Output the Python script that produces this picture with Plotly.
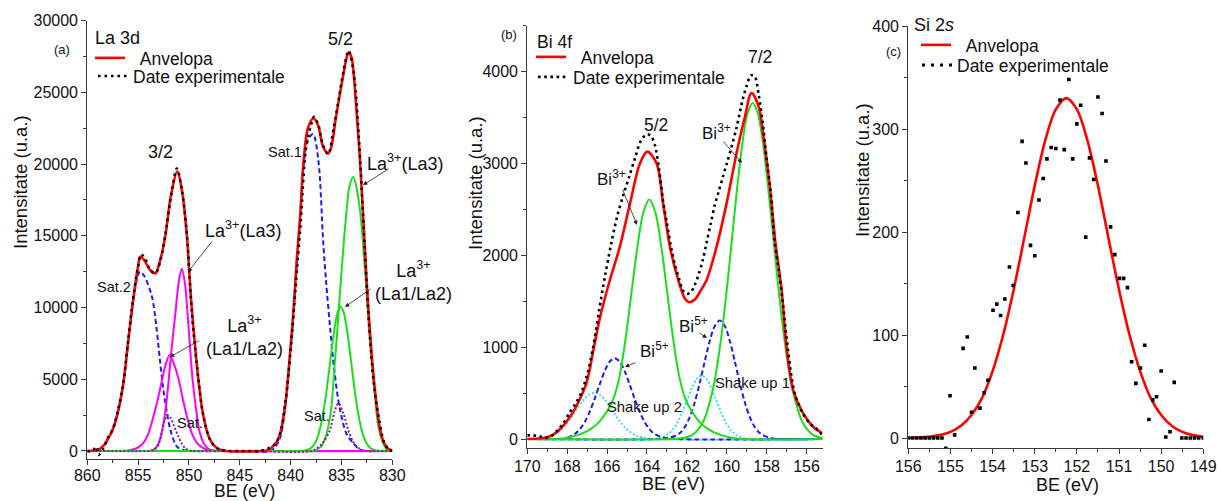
import plotly.graph_objects as go

FONT = "Liberation Sans, Arial, Helvetica, sans-serif"
W, H = 1219, 501
AX = "#3a3a3a"
TXT = "#111111"

# ---------------- Panel (a): La 3d ----------------
a_env_x = [860, 859.5, 859, 858.7, 858.3, 858, 857.5, 857.1, 856.5, 856, 855.77, 855.4, 855, 854.8, 854.4, 853.8, 853.3, 852.8, 852.3, 851.8, 851.15, 850.7, 850.2, 849.97, 849.73, 849.4, 849.08, 848.6, 848, 847.5, 847, 846.3, 843, 842.3, 841.5, 841, 840.5, 840.06, 839.7, 839.4, 839.05, 838.75, 838.3, 837.75, 837.3, 836.8, 836.3, 836.0, 835.6, 835.2, 834.8, 834.5, 834.3, 834.0, 833.8, 833.5, 833.18, 832.8, 832.52, 832.2, 831.87, 831.5, 831.2, 830.8, 830.4, 830]
a_env_y = [0, 20, 80, 190, 450, 800, 1500, 2390, 4500, 7500, 8900, 11000, 12900, 13550, 13300, 12600, 12390, 13400, 15100, 17700, 19500, 18200, 15000, 12400, 10000, 7300, 5000, 2500, 900, 350, 100, 0, 0, 50, 500, 1300, 3400, 6800, 10000, 13300, 16500, 20000, 22500, 23200, 22700, 21200, 20750, 21200, 23000, 24700, 26300, 27400, 27800, 27400, 26300, 23500, 20300, 15500, 11800, 8300, 5400, 2950, 1500, 550, 150, 30]

a_exp_x = [860, 859.5, 859.1, 858.9, 858.4, 858, 857.5, 857, 856.5, 856, 855.5, 855, 854.7, 854.3, 853.8, 853.3, 852.8, 852.3, 851.8, 851.2, 850.7, 850.2, 849.7, 849.1, 848.6, 848, 847.5, 847, 846, 845, 844, 843, 842.5, 842.2, 841.5, 841, 840.5, 840, 839.5, 839, 838.5, 838, 837.7, 837.3, 836.8, 836.3, 835.8, 835.3, 834.8, 834.3, 833.8, 833.3, 832.8, 832.3, 831.8, 831.3, 830.8, 830.4, 830]
a_exp_y = [0, 0, 300, -280, 190, 900, 1500, 2800, 4500, 7600, 10600, 12900, 13700, 13400, 12600, 12400, 13300, 15200, 17600, 19700, 18200, 15000, 9500, 5200, 2500, 900, 350, 100, 0, 0, 0, 0, 100, 190, 500, 1300, 3500, 7000, 11500, 16000, 21000, 22700, 23300, 22800, 21300, 20700, 22400, 24400, 26500, 27900, 26400, 22000, 15400, 9000, 4600, 2200, 600, 150, 0]

# Sat.2 + Sat.1 (blue dashed)
a_sat_x = [860, 859, 858.5, 858, 857.5, 857, 856.5, 856, 855.5, 855, 854.8, 854.4, 853.64, 853.2, 852.82, 852.5, 852.16, 851.8, 851.18, 850.5, 850, 845, 842, 841.5, 841, 840.5, 840.06, 839.7, 839.4, 839.05, 838.75, 838.3, 837.8, 837.28, 836.79, 836.5, 836.13, 835.7, 835.15, 834.5, 833.84, 833.2, 832.5, 831, 830]
a_sat_y = [0, 60, 300, 800, 1500, 2650, 4500, 7400, 10300, 12300, 12500, 12200, 10760, 8600, 6100, 4200, 2630, 1400, 300, 50, 0, 0, 0, 300, 1000, 3300, 6600, 9700, 13000, 16300, 19700, 21700, 22100, 20300, 14500, 11700, 8700, 5600, 2900, 1200, 540, 100, 0, 0, 0]

# La3+(La3), 3/2 (magenta)
a_la3_32_x = [860, 855, 854, 853.5, 853, 852.65, 852.3, 852, 851.7, 851.35, 851, 850.7, 850.4, 850.15, 849.9, 849.65, 849.3, 849, 848.6, 848.1, 847.5, 847, 830]
a_la3_32_y = [0, 0, 0, 80, 500, 1400, 2900, 4900, 7200, 9500, 11800, 12700, 11700, 9700, 7300, 5000, 2900, 1500, 600, 150, 20, 0, 0]

# La3+(La1/La2), 3/2 (magenta)
a_la12_32_x = [860, 857, 856.5, 856, 855.5, 855, 854.5, 854, 853.5, 853, 852.65, 852.3, 851.9, 851.5, 851, 850.6, 850.2, 849.7, 849.2, 848.7, 848.2, 847.5, 846.5, 830]
a_la12_32_y = [0, 0, 10, 30, 100, 250, 550, 1200, 2400, 3800, 4950, 6000, 6700, 6100, 4950, 3600, 2400, 1200, 550, 250, 80, 10, 0, 0]

# La3+(La3), 5/2 (green)
a_la3_52_x = [860, 839, 838, 837.5, 837, 836.5, 836.3, 836, 835.64, 835.4, 835.15, 834.8, 834.49, 834.2, 833.84, 833.5, 833.2, 833.01, 832.8, 832.52, 832.3, 832.03, 831.7, 831.38, 831, 830.55, 830]
a_la3_52_y = [0, 0, 0, 80, 300, 1100, 1700, 3000, 6300, 8500, 11000, 14300, 16800, 18500, 19100, 18300, 16900, 15600, 13600, 11000, 8600, 6300, 3700, 1700, 700, 100, 0]

# La3+(La1/La2), 5/2 (green)
a_la12_52_x = [860, 839.6, 839.08, 838.58, 838.08, 837.78, 837.48, 837.18, 836.88, 836.58, 836.28, 835.98, 835.68, 835.38, 835.08, 834.78, 834.48, 834.18, 833.88, 833.58, 833.28, 832.98, 832.68, 832.38, 832.08, 831.58, 831.08, 830.5, 830]
a_la12_52_y = [0, 0, 7, 39, 170, 370, 740, 1360, 2320, 3630, 5240, 6970, 8540, 9660, 10060, 9660, 8540, 6970, 5240, 3630, 2320, 1360, 740, 370, 170, 39, 7, 0, 0]

# Sat. (purple dotted)
a_satm_x = [860, 854, 853.6, 853.3, 853, 852.7, 852.4, 852.1, 851.8, 851.5, 851.1, 850.7, 850.3, 849.8, 849.3, 845, 838, 837.4, 836.8, 836.13, 835.7, 835.3, 834.8, 834.33, 833.9, 833.5, 833, 832.5, 830]
a_satm_y = [0, 0, 30, 150, 450, 1200, 2100, 2500, 2300, 1800, 1100, 500, 150, 20, 0, 0, 0, 200, 600, 1460, 2700, 3320, 2600, 1460, 700, 300, 80, 0, 0]

# ---------------- Panel (b): Bi 4f ----------------
b_env_x = [170, 169.5, 169, 168.68, 168.3, 167.83, 167.4, 167.02, 166.66, 166.36, 165.86, 165.36, 164.85, 164.35, 163.99, 163.52, 163.19, 162.85, 162.43, 162.1, 161.9, 161.6, 161.3, 161.01, 160.51, 160.01, 159.51, 159.1, 158.76, 158.4, 158.18, 157.84, 157.55, 157.25, 157.0, 156.67, 156.17, 155.67, 155.2]
b_env_y = [0, 5, 20, 50, 120, 250, 420, 620, 1000, 1320, 1732, 2095, 2567, 3003, 3130, 3003, 2567, 2095, 1732, 1530, 1490, 1520, 1620, 1732, 2095, 2567, 3112, 3500, 3770, 3620, 3330, 2748, 2120, 1623, 1000, 534, 280, 134, 62]

b_exp_x = [170, 169.7, 169.4, 169.1, 168.8, 168.5, 168.2, 167.9, 167.6, 167.3, 167.0, 166.7, 166.4, 166.1, 165.8, 165.5, 165.2, 164.9, 164.6, 164.3, 164.0, 163.8, 163.6, 163.4, 163.2, 163.0, 162.8, 162.6, 162.4, 162.2, 162.0, 161.8, 161.6, 161.4, 161.2, 161.0, 160.8, 160.6, 160.4, 160.2, 160.0, 159.8, 159.5, 159.2, 159.0, 158.8, 158.6, 158.4, 158.2, 158.0, 157.8, 157.6, 157.4, 157.2, 157.0, 156.8, 156.6, 156.4, 156.2, 156.0, 155.8, 155.6, 155.4, 155.2]
b_exp_y = [40, 40, 30, 10, 30, 90, 170, 280, 380, 500, 700, 1000, 1400, 1780, 2120, 2420, 2650, 2850, 3060, 3250, 3320, 3300, 3200, 2950, 2600, 2350, 2100, 1900, 1750, 1620, 1580, 1600, 1680, 1800, 1950, 2150, 2350, 2550, 2700, 2850, 3000, 3150, 3400, 3700, 3850, 3960, 3950, 3750, 3450, 3050, 2700, 2150, 1850, 1500, 1100, 750, 500, 380, 280, 220, 160, 130, 90, 40]

# Bi3+ 5/2 and 7/2 (green)
b_bi3_52_x = [170, 168.5, 167.88, 167.38, 166.88, 166.38, 165.98, 165.68, 165.38, 165.08, 164.78, 164.48, 164.18, 163.88, 163.58, 163.28, 162.98, 162.68, 162.38, 162.08, 161.78, 161.38, 160.88, 160.38, 159.88, 159.28, 155.2]
b_bi3_52_y = [0, 0, 20, 50, 100, 190, 310, 440, 680, 1080, 1590, 2090, 2470, 2610, 2470, 2090, 1590, 1080, 680, 440, 310, 190, 100, 50, 20, 0, 0]
b_bi3_72_x = [170, 162.7, 162.2, 161.7, 161.2, 160.7, 160.45, 160.2, 159.95, 159.7, 159.45, 159.2, 158.95, 158.7, 158.45, 158.2, 157.95, 157.7, 157.45, 157.2, 156.95, 156.7, 156.2, 155.7, 155.2]
b_bi3_72_y = [0, 0, 10, 48, 182, 535, 839, 1242, 1727, 2263, 2794, 3246, 3551, 3660, 3551, 3246, 2794, 2263, 1727, 1242, 839, 535, 182, 48, 10]

# Bi5+ 5/2 and 7/2 (blue dashed)
b_bi5_52_x = [170, 168.6, 168.1, 167.62, 167.37, 167.12, 166.87, 166.62, 166.37, 166.12, 165.87, 165.62, 165.37, 165.12, 164.87, 164.62, 164.37, 164.12, 163.87, 163.62, 163.12, 162.6, 155.2]
b_bi5_52_y = [0, 0, 5, 55, 106, 185, 299, 440, 596, 740, 843, 880, 843, 740, 596, 440, 299, 185, 106, 55, 12, 0, 0]
b_bi5_72_x = [170, 163.35, 162.85, 162.35, 162.1, 161.85, 161.6, 161.35, 161.1, 160.85, 160.6, 160.35, 160.1, 159.85, 159.6, 159.35, 159.1, 158.85, 158.6, 158.35, 157.85, 157.35, 155.2]
b_bi5_72_y = [0, 0, 12, 66, 132, 242, 404, 614, 849, 1071, 1232, 1290, 1232, 1071, 849, 614, 404, 242, 132, 66, 12, 0, 0]

# Shake up 2 and Shake up 1 (cyan dotted)
b_sh2_x = [170, 169.7, 169.15, 168.75, 168.45, 168.15, 167.85, 167.55, 167.25, 166.95, 166.65, 166.35, 166.05, 165.75, 165.45, 165.15, 164.85, 164.55, 164.15, 163.65, 155.2]
b_sh2_y = [0, 0, 14, 39, 78, 138, 220, 316, 410, 479, 505, 479, 410, 316, 220, 138, 78, 39, 14, 0, 0]
b_sh1_x = [170, 163.76, 163.26, 163.01, 162.76, 162.51, 162.26, 162.01, 161.76, 161.51, 161.26, 161.01, 160.76, 160.51, 160.26, 160.01, 159.76, 159.51, 159.26, 158.76, 155.2]
b_sh1_y = [0, 0, 18, 42, 88, 166, 277, 413, 549, 652, 690, 652, 549, 413, 277, 166, 88, 42, 18, 0, 0]

# ---------------- Panel (c): Si 2s ----------------
c_env_x = [156.0, 155.75, 155.5, 155.25, 155.0, 154.75, 154.5, 154.25, 154.0, 153.75, 153.5, 153.25, 153.0, 152.75, 152.5, 152.25, 152.0, 151.75, 151.5, 151.25, 151.0, 150.75, 150.5, 150.25, 150.0, 149.75, 149.5, 149.25, 149.0]
c_env_y = [0.2, 0.5, 1.2, 2.8, 5.9, 11.9, 22.4, 39, 65, 100, 144, 194, 245, 289, 319, 330, 319, 289, 245, 194, 144, 100, 65, 39, 22.4, 11.9, 5.9, 2.8, 1.2]

c_exp_x = [156.0, 155.9, 155.8, 155.7, 155.6, 155.5, 155.4, 155.3, 155.2, 155.11, 155.01, 154.90, 154.70, 154.60, 154.50, 154.42, 154.30, 154.20, 154.11, 153.99, 153.90, 153.81, 153.71, 153.60, 153.51, 153.40, 153.30, 153.21, 153.10, 153.00, 152.90, 152.80, 152.71, 152.61, 152.50, 152.40, 152.30, 152.19, 152.10, 152.00, 151.91, 151.79, 151.70, 151.60, 151.50, 151.40, 151.31, 151.20, 151.10, 150.99, 150.89, 150.80, 150.70, 150.60, 150.49, 150.39, 150.29, 150.20, 150.11, 150.00, 149.89, 149.79, 149.69, 149.51, 149.41, 149.31, 149.21, 149.11, 149.0]
c_exp_y = [0, 0, 0, 0, 0, 0, 0, 0, 0, -10, 41, 3, 87, 98, 25, 68, 29, 44, 56, 124, 130, 119, 135, 166, 148, 219, 288, 267, 187, 177, 231, 252, 271, 282, 281, 328, 280, 348, 271, 305, 323, 195, 272, 251, 331, 315, 269, 205, 178, 155, 155, 146, 74, 53, 68, 90, 18, 37, 40, 65, 1, 6, 54, 0, 0, 0, 0, 0, 0]

# ---------------- styles ----------------
RED = "#ff0000"
GREEN = "#19e019"
MAGENTA = "#ff00ff"
BLUE = "#1a1aff"
PURPLE = "#8b1a9b"
CYAN = "#3fdcf5"
NB = "\u00a0"

fig = go.Figure()


def line(x, y, ax, color, width=2.0, dash="solid", name=None, legend=None, shape="spline"):
    fig.add_trace(go.Scatter(
        x=x, y=y, mode="lines", xaxis="x" + ax, yaxis="y" + ax,
        line=dict(color=color, width=width, dash=dash, shape=shape, smoothing=0.9),
        name=name, showlegend=legend is not None, legend=legend or "legend",
        hoverinfo="skip"))


# panel (a)
line(a_sat_x, a_sat_y, "", BLUE, 2.0, "5px,3px")
line(a_la12_32_x, a_la12_32_y, "", MAGENTA, 2.0)
line(a_la3_32_x, a_la3_32_y, "", MAGENTA, 2.0)
line(a_la12_52_x, a_la12_52_y, "", GREEN, 2.0)
line(a_la3_52_x, a_la3_52_y, "", GREEN, 2.0)
line(a_satm_x, a_satm_y, "", PURPLE, 2.0, "2px,2px")
line(a_env_x, a_env_y, "", RED, 2.6, name=NB + NB + "Anvelopa", legend="legend")
line(a_exp_x, a_exp_y, "", "#000000", 2.5, "2.5px,4px", name="Date experimentale", legend="legend2")

# panel (b)
line(b_sh2_x, b_sh2_y, "2", CYAN, 2.0, "2px,2px")
line(b_sh1_x, b_sh1_y, "2", CYAN, 2.0, "2px,2px")
line(b_bi5_52_x, b_bi5_52_y, "2", BLUE, 2.0, "5px,3px")
line(b_bi5_72_x, b_bi5_72_y, "2", BLUE, 2.0, "5px,3px")
line(b_bi3_52_x, b_bi3_52_y, "2", GREEN, 2.0)
line(b_bi3_72_x, b_bi3_72_y, "2", GREEN, 2.0)
line(b_env_x, b_env_y, "2", RED, 2.6, name=NB + NB + "Anvelopa", legend="legend3")
line(b_exp_x, b_exp_y, "2", "#000000", 2.6, "2.6px,3.6px", name="Date experimentale", legend="legend4")

# panel (c)
line(c_env_x, c_env_y, "3", RED, 2.6, name=NB + NB + "Anvelopa", legend="legend5")
fig.add_trace(go.Scatter(x=c_exp_x, y=c_exp_y, mode="markers", xaxis="x3", yaxis="y3",
                         marker=dict(symbol="square", size=3.6, color="#000000"),
                         showlegend=False, hoverinfo="skip"))
fig.add_trace(go.Scatter(x=[None], y=[None], mode="lines", xaxis="x3", yaxis="y3",
                         line=dict(color="#000000", width=3, dash="3px,6px"),
                         name="Date experimentale", legend="legend6"))


def axis(domain, rng, dtick, minor_dtick, **kw):
    d = dict(domain=domain, range=rng, autorange=False, dtick=dtick, automargin=False,
             showline=True, linecolor=AX, linewidth=1.2, mirror=False,
             ticks="outside", ticklen=5, tickwidth=1.2, tickcolor=AX,
             minor=dict(ticks="outside", ticklen=3, tickwidth=1.0, tickcolor=AX, dtick=minor_dtick, showgrid=False),
             showgrid=False, zeroline=False,
             tickfont=dict(family=FONT, size=16, color=TXT))
    d.update(kw)
    return d


def px(x):
    return x / W


def py(y):
    return 1 - y / H


layout = dict(
    width=W, height=H, margin=dict(l=0, r=0, t=0, b=0, autoexpand=False),
    paper_bgcolor="white", plot_bgcolor="white",
    font=dict(family=FONT, color=TXT),
    xaxis=axis([px(87.3), px(392.3)], [860, 830], 5, 2.5, anchor="y", tick0=830, ticklabelstandoff=-3),
    yaxis=axis([py(459), py(20.7)], [-560, 30000], 5000, 2500, anchor="x", tickformat="d", tick0=0),
    xaxis2=axis([px(527.3), px(822.5)], [170, 155.2], 2, 1, anchor="y2", tick0=156, ticklabelstandoff=-2),
    yaxis2=axis([py(448.2), py(25.9)], [-100, 4500], 1000, 500, anchor="x2", tickformat="d", tick0=0),
    xaxis3=axis([px(908.3), px(1203.3)], [156, 149], 1, 0.5, anchor="y3", tick0=149, ticklabelstandoff=-2),
    yaxis3=axis([py(448.3), py(26)], [-10, 400], 100, 50, anchor="x3", tickformat="d", tick0=0),
)


def leg(x, y):
    return dict(x=px(x), y=py(y), xanchor="left", yanchor="middle", bgcolor="rgba(0,0,0,0)",
                borderwidth=0, font=dict(family=FONT, size=17.5, color=TXT), itemwidth=30)


layout["legend"] = leg(90, 58)
layout["legend2"] = leg(93, 76)
layout["legend3"] = leg(531, 57)
layout["legend4"] = leg(533, 77)
layout["legend5"] = leg(916, 45)
layout["legend6"] = leg(917, 65)


def T(text, x, y, size=18, xanchor="left", angle=0):
    return dict(text=text, x=px(x), y=py(y), xref="paper", yref="paper", xanchor=xanchor,
                yanchor="middle", showarrow=False, textangle=angle,
                font=dict(family=FONT, size=size, color=TXT))


def ARW(hx, hy, tx, ty):
    return dict(text="", x=px(hx), y=py(hy), xref="paper", yref="paper", ax=tx - hx, ay=ty - hy,
                showarrow=True, arrowhead=2, arrowsize=1.1, arrowwidth=0.8, arrowcolor="#222222",
                standoff=0, startstandoff=0)


annotations = [
    # axis titles
    T("BE (eV)", 244, 491, 17.5, "center"),
    T("BE (eV)", 673.5, 484, 18, "center"),
    T("BE (eV)", 1067, 485, 18, "center"),
    T("Intensitate (u.a.)", 20, 182, 18.5, "center", -90),
    T("Intensitate (u.a.)", 475, 183, 18.5, "center", -90),
    T("Intensitate (u.a.)", 862, 170, 18.5, "center", -90),
    # panel (a)
    T("La 3d", 93, 38),
    T("(a)", 62, 50, 13, "center"),
    T("3/2", 160, 152, 18, "center"),
    T("5/2", 340, 39, 18, "center"),
    T("Sat.1", 304, 152, 14.5, "right"),
    T("La<sup>3+</sup>(La3)", 365, 163),
    T("La<sup>3+</sup>(La3)", 203, 230),
    T("La<sup>3+</sup><br>(La1/La2)", 204, 336),
    T("La<sup>3+</sup><br>(La1/La2)", 373, 281),
    T("Sat.2", 133, 287, 14.5, "right"),
    T("Sat.", 175, 423, 14.5),
    T("Sat.", 302, 416, 14.5),
    ARW(188, 272, 213, 240),
    ARW(170, 357, 200, 340),
    ARW(363, 185, 390, 168),
    ARW(345, 307, 372, 288),
    # panel (b)
    T("(b)", 509, 35, 13, "center"),
    T("Bi 4f", 535, 42, 17.5),
    T("5/2", 656, 125, 17.5, "center"),
    T("7/2", 760, 57, 17.5, "center"),
    T("Bi<sup>3+</sup>", 595, 178, 17),
    T("Bi<sup>3+</sup>", 700, 132, 17),
    T("Bi<sup>5+</sup>", 638, 350, 17),
    T("Bi<sup>5+</sup>", 677, 325, 17),
    T("Shake up 2", 605, 407, 14.8),
    T("Shake up 1", 713, 383, 14.8),
    ARW(637, 225, 622, 188),
    ARW(742, 163, 722, 140),
    ARW(625, 367, 637, 362),
    ARW(707, 338, 698, 332),
    # panel (c)
    T("Si 2<i>s</i>", 912, 25, 18),
    T("(c)", 893, 52, 13, "center"),
]
layout["annotations"] = annotations

fig.update_layout(**layout)

fig.write_html("out.html", config={"displayModeBar": False},
               post_script="document.body.style.margin='0';document.body.style.overflow='hidden';")
